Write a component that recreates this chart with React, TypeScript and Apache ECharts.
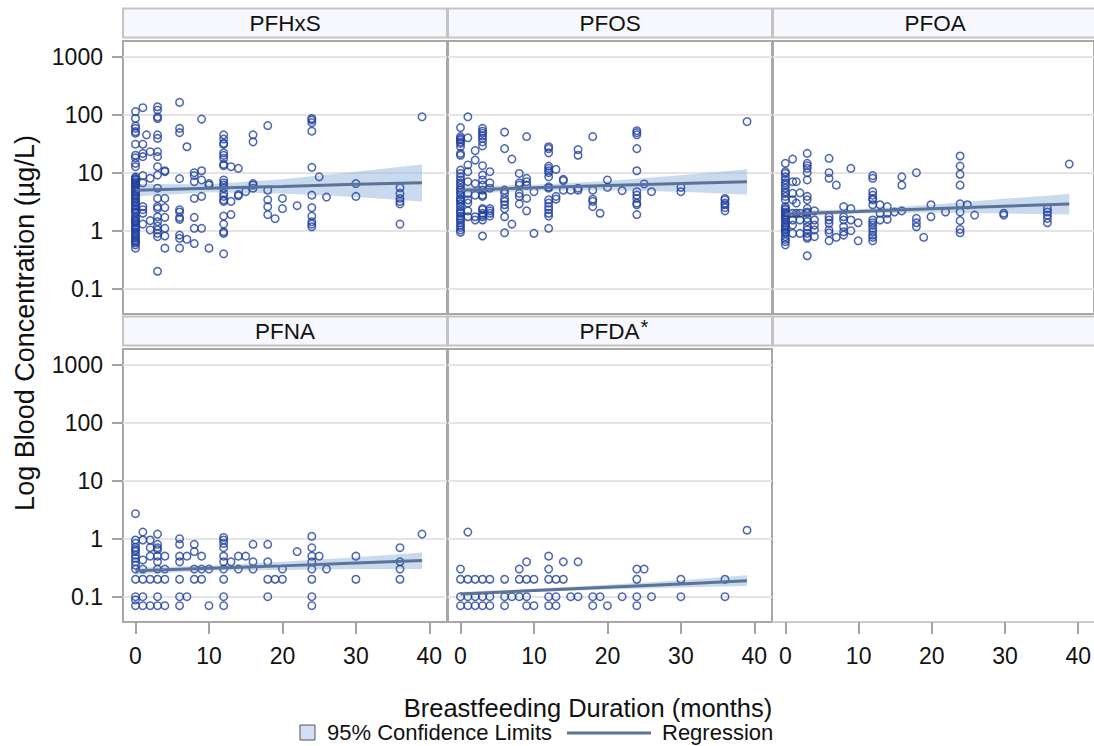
import React, { useEffect, useRef } from "react";
import * as echarts from "echarts";

// ---------- data (month -> blood concentrations, µg/L) ----------
const panelNames = ["PFHxS", "PFOS", "PFOA", "PFNA", "PFDA*"];

const pfhxsByMonth: [number, number[]][] = [
  [0, [113, 86, 64, 58, 51, 48, 31, 20, 18, 14.5, 12.7, 8.5, 8.0, 7.7, 7.5, 7.0, 6.7, 6.4, 6.1, 5.7, 5.4, 5.0, 4.7, 4.4, 4.1, 3.9, 3.6, 3.5, 3.2, 3.0, 2.8, 2.6, 2.4, 2.3, 2.1, 2.0, 1.74, 1.63, 1.5, 1.43, 1.37, 1.25, 1.17, 1.1, 1.05, 0.96, 0.9, 0.84, 0.79, 0.74, 0.69, 0.65, 0.62, 0.57, 0.5]],
  [1, [132, 31, 21.5, 18.9, 8.9, 6.7, 2.6, 2.3, 2.0, 1.3]],
  [1.5, [45]],
  [2, [23, 8.0, 1.49, 1.03]],
  [3, [137, 120, 92, 86, 45, 39, 23, 18.9, 12.7, 9.1, 5.4, 3.6, 2.6, 2.4, 1.74, 1.43, 1.2, 1.03, 0.9, 0.79, 0.2]],
  [4, [10.8, 10.4, 3.6, 2.5, 1.7, 1.1, 0.81, 0.5]],
  [6, [163, 58, 49, 7.9, 2.3, 2.1, 1.7, 1.57, 0.84, 0.74, 0.5]],
  [7, [28, 0.71]],
  [8, [10, 8.9, 7.0, 3.6, 1.7, 1.1, 0.6]],
  [9, [84, 10.8, 7.5, 3.9, 1.1]],
  [10, [6.5, 6.1, 0.5]],
  [12, [45, 38, 32, 31, 22, 19.9, 17.7, 13.9, 13.2, 7.5, 6.7, 6.1, 5.4, 4.4, 3.9, 3.4, 3.2, 1.79, 1.3, 0.96, 0.9, 0.4]],
  [13, [12.7, 3.2, 1.9]],
  [14, [11.9, 4.2, 4.0]],
  [15, [4.7]],
  [16, [45, 34, 6.5, 6.1, 5.4]],
  [18, [65, 5.0, 3.4, 2.6, 1.9]],
  [19, [1.61]],
  [20, [3.6, 2.4]],
  [22, [2.7]],
  [24, [86, 81, 73, 52, 12.4, 4.1, 2.5, 1.79, 1.43, 1.3, 1.17]],
  [25, [8.5]],
  [26, [3.8]],
  [30, [6.5, 3.9]],
  [36, [5.5, 4.4, 3.6, 3.2, 2.9, 1.3]],
  [39, [92]],
];

const pfosByMonth: [number, number[]][] = [
  [0, [60, 42, 39, 37, 34, 32, 28, 21.5, 20, 11.1, 9.7, 8.5, 7.5, 6.7, 6.1, 5.4, 5.0, 4.5, 4.1, 3.6, 3.4, 3.2, 2.9, 2.6, 2.3, 2.1, 2.0, 1.79, 1.63, 1.53, 1.37, 1.25, 1.14, 1.03, 0.94]],
  [1, [92, 40, 13.6, 10.4, 7.0, 4.4, 3.4, 3.0, 2.2, 1.74]],
  [2, [24, 16.5, 6.5, 4.1, 1.74, 1.53]],
  [3, [58, 52, 48, 43, 39, 34, 29, 13.2, 9.1, 7.5, 6.1, 5.0, 4.1, 3.9, 2.4, 2.3, 2.0, 1.86, 1.74, 1.53, 0.81]],
  [4, [10.4, 6.7, 5.4, 2.4, 2.2, 2.0, 1.79]],
  [6, [50, 26, 5.0, 4.4, 3.6, 3.2, 2.8, 2.4, 1.74, 0.92]],
  [7, [17.2, 1.3]],
  [8, [9.7, 6.7, 6.1, 4.4, 3.9, 2.9]],
  [9, [42, 8.0, 7.0, 6.1, 3.6, 2.2]],
  [10, [4.7, 0.9]],
  [12, [28, 26, 22, 13.0, 11.9, 10.8, 10, 8.5, 5.7, 5.4, 3.4, 3.0, 2.6, 2.3, 2.0, 1.79, 1.1]],
  [13, [11.4, 3.9, 3.5]],
  [14, [7.7, 7.3, 5.0]],
  [15, [5.0]],
  [16, [25, 20, 5.4, 5.0]],
  [18, [42, 5.0, 3.5, 3.2, 2.6]],
  [19, [2.0]],
  [20, [7.5, 5.6]],
  [22, [4.9]],
  [24, [53, 49, 45, 26, 10.8, 4.7, 4.1, 3.6, 3.0, 2.8, 1.9]],
  [25, [6.4]],
  [26, [4.7]],
  [30, [5.6, 4.7]],
  [36, [3.6, 3.4, 3.0, 2.8, 2.5, 2.2]],
  [39, [76]],
];

const pfoaByMonth: [number, number[]][] = [
  [0, [14.5, 10.4, 9.7, 8.5, 7.5, 6.7, 6.1, 5.4, 4.7, 4.4, 3.9, 3.4, 2.6, 2.4, 2.3, 2.1, 2.0, 1.86, 1.74, 1.63, 1.53, 1.37, 1.25, 1.17, 1.1, 1.03, 0.96, 0.9, 0.79, 0.71, 0.65, 0.57]],
  [1, [17.2, 7.0, 4.4, 3.4, 2.0, 1.53, 1.25, 0.9]],
  [1.5, [7.0, 3.0, 2.0]],
  [2, [4.5, 2.0, 1.53, 0.9]],
  [3, [21.5, 14.5, 13.2, 11.9, 10, 7.5, 3.9, 3.4, 2.4, 2.1, 2.0, 1.63, 1.43, 1.17, 1.03, 0.9, 0.79, 0.74, 0.37]],
  [4, [2.2, 1.53, 1.25, 1.03, 0.79]],
  [6, [17.7, 10, 8.0, 1.74, 1.53, 1.34, 1.03, 0.92, 0.67]],
  [7, [6.1, 0.77]],
  [8, [2.6, 1.74, 1.53, 1.17, 0.96, 0.84]],
  [9, [11.9, 2.4, 1.53, 1.0]],
  [10, [1.37, 0.67]],
  [12, [8.9, 8.0, 4.7, 4.1, 3.6, 3.4, 2.8, 1.53, 1.37, 1.25, 1.1, 0.96, 0.84, 0.77, 0.67]],
  [13, [2.8, 2.0, 1.53]],
  [14, [2.6, 2.0, 1.57]],
  [15, [2.1]],
  [16, [8.5, 6.1, 2.2]],
  [18, [10, 1.63, 1.37, 1.17]],
  [19, [0.77]],
  [20, [2.8, 1.74]],
  [22, [2.1]],
  [24, [19.4, 13.0, 9.4, 6.1, 2.9, 2.1, 1.49, 1.05, 0.92]],
  [25, [2.8]],
  [26, [1.86]],
  [30, [2.0, 1.86]],
  [36, [2.4, 2.1, 1.86, 1.63, 1.37]],
  [39, [14.1]],
];

const pfnaByMonth: [number, number[]][] = [
  [0, [2.7, 0.95, 0.83, 0.71, 0.65, 0.6, 0.52, 0.46, 0.4, 0.35, 0.3, 0.2, 0.1, 0.088, 0.07]],
  [1, [1.3, 0.95, 0.43, 0.3, 0.2, 0.1, 0.07]],
  [2, [0.95, 0.7, 0.5, 0.2, 0.07]],
  [3, [1.2, 0.8, 0.7, 0.65, 0.5, 0.4, 0.3, 0.2, 0.1, 0.07]],
  [4, [0.5, 0.3, 0.2, 0.07]],
  [6, [1.0, 0.8, 0.5, 0.4, 0.2, 0.1, 0.07]],
  [7, [0.5, 0.1]],
  [8, [0.8, 0.6, 0.3, 0.2]],
  [9, [0.5, 0.3, 0.2]],
  [10, [0.3, 0.07]],
  [12, [1.05, 0.95, 0.83, 0.7, 0.5, 0.4, 0.3, 0.2, 0.1, 0.07]],
  [13, [0.4]],
  [14, [0.5, 0.3]],
  [15, [0.5]],
  [16, [0.8, 0.4, 0.3]],
  [18, [0.8, 0.4, 0.2, 0.1]],
  [19, [0.2]],
  [20, [0.3, 0.2]],
  [22, [0.6]],
  [24, [1.1, 0.7, 0.5, 0.4, 0.3, 0.2, 0.1, 0.07]],
  [25, [0.5]],
  [26, [0.3]],
  [30, [0.5, 0.2]],
  [36, [0.7, 0.4, 0.3, 0.2]],
  [39, [1.2]],
];

const pfdaByMonth: [number, number[]][] = [
  [0, [0.3, 0.2, 0.1, 0.07]],
  [1, [1.3, 0.2, 0.1, 0.07]],
  [2, [0.2, 0.1, 0.07]],
  [3, [0.2, 0.1, 0.07]],
  [4, [0.2, 0.1, 0.07]],
  [6, [0.2, 0.1, 0.07]],
  [7, [0.1]],
  [8, [0.3, 0.2, 0.1]],
  [9, [0.4, 0.2, 0.1, 0.07]],
  [10, [0.2, 0.07]],
  [12, [0.5, 0.3, 0.2, 0.1, 0.07]],
  [13, [0.2, 0.1, 0.07]],
  [14, [0.4, 0.2]],
  [15, [0.1]],
  [16, [0.4, 0.1]],
  [18, [0.1, 0.07]],
  [19, [0.1]],
  [20, [0.07]],
  [22, [0.1]],
  [24, [0.3, 0.2, 0.1, 0.07]],
  [25, [0.3]],
  [26, [0.1]],
  [30, [0.2, 0.1]],
  [36, [0.2, 0.1]],
  [39, [1.4]],
];

// regression fit and 95% confidence limits, read at these months
const fitMonths = [0, 10, 20, 30, 39];
const pfhxsFit = [5.0, 5.4, 5.8, 6.3, 6.7];
const pfhxsLower = [3.9, 4.6, 4.4, 3.8, 3.2];
const pfhxsUpper = [6.4, 6.3, 7.7, 10.4, 13.9];
const pfosFit = [5.0, 5.5, 6.0, 6.5, 7.0];
const pfosLower = [4.3, 4.9, 5.0, 4.7, 4.2];
const pfosUpper = [5.8, 6.2, 7.2, 9.0, 11.5];
const pfoaFit = [1.94, 2.15, 2.4, 2.65, 2.9];
const pfoaLower = [1.72, 1.97, 2.05, 1.97, 1.9];
const pfoaUpper = [2.2, 2.35, 2.8, 3.55, 4.3];
const pfnaFit = [0.28, 0.31, 0.34, 0.38, 0.42];
const pfnaLower = [0.245, 0.28, 0.29, 0.3, 0.3];
const pfnaUpper = [0.32, 0.34, 0.4, 0.48, 0.58];
const pfdaFit = [0.111, 0.128, 0.146, 0.166, 0.189];
const pfdaLower = [0.103, 0.12, 0.133, 0.144, 0.153];
const pfdaUpper = [0.12, 0.137, 0.16, 0.192, 0.235];

const yTickMin = 0.1;
const yTickMax = 1000;
const xTickMin = 0;
const xTickMax = 40;
const xTickStep = 10;

// ---------- layout / style ----------
const FONT = "'Liberation Sans', Arial, Helvetica, sans-serif";
const COL_LEFT = [123, 448, 773];
const ROW_TOP = [41, 349];
const PW = 324;
const PH = 273;
const XMIN = -1.7;
const XMAX = 42.4;
const YLMIN = -1.4362;
const YLMAX = 3.2707;
const MARKER = "#1f3f9f";
const LINE = "#5b7396";
const BAND = "rgba(150,182,222,0.5)";
const GRIDLINE = "#e4e4e4";
const TICK = "#a4a4a4";
const BORDER = "#a8a8a8";
const TEXT = "#111";

const panels = [
  { col: 0, row: 0, pts: pfhxsByMonth, fit: pfhxsFit, lo: pfhxsLower, hi: pfhxsUpper },
  { col: 1, row: 0, pts: pfosByMonth, fit: pfosFit, lo: pfosLower, hi: pfosUpper },
  { col: 2, row: 0, pts: pfoaByMonth, fit: pfoaFit, lo: pfoaLower, hi: pfoaUpper },
  { col: 0, row: 1, pts: pfnaByMonth, fit: pfnaFit, lo: pfnaLower, hi: pfnaUpper },
  { col: 1, row: 1, pts: pfdaByMonth, fit: pfdaFit, lo: pfdaLower, hi: pfdaUpper },
];

function buildOption() {
  const grids: any[] = [];
  const xAxes: any[] = [];
  const yAxes: any[] = [];
  const series: any[] = [];
  const addGrid = (g: any, x: any, y: any) => {
    grids.push(g);
    const i = grids.length - 1;
    xAxes.push({ ...x, gridIndex: i });
    yAxes.push({ ...y, gridIndex: i });
    return i;
  };
  const hiddenValue = { type: "value", show: false, min: 0, max: 1 };
  const labelStyle = { fontSize: 23, color: TEXT, fontFamily: FONT };

  // data panels
  panels.forEach((p) => {
    const gi = addGrid(
      {
        left: COL_LEFT[p.col],
        top: ROW_TOP[p.row],
        width: PW,
        height: PH,
        show: true,
        borderColor: BORDER,
        borderWidth: 2,
        backgroundColor: "transparent",
      },
      { type: "value", min: XMIN, max: XMAX, show: false },
      { type: "log", logBase: 10, min: Math.pow(10, YLMIN), max: Math.pow(10, YLMAX), show: false }
    );
    const scatterData: number[][] = [];
    p.pts.forEach(([m, vals]) => vals.forEach((v) => scatterData.push([m, v])));
    const lo = p.lo;
    const hi = p.hi;
    series.push({
      type: "custom",
      xAxisIndex: gi,
      yAxisIndex: gi,
      z: 1,
      silent: true,
      data: fitMonths.map((m, i) => [m, lo[i], hi[i]]),
      encode: { x: 0, y: [1, 2] },
      renderItem: (params: any, api: any) => {
        if (params.dataIndex !== 0) return null;
        const pts: number[][] = [];
        for (let i = 0; i < fitMonths.length; i++) pts.push(api.coord([fitMonths[i], hi[i]]));
        for (let i = fitMonths.length - 1; i >= 0; i--) pts.push(api.coord([fitMonths[i], lo[i]]));
        return { type: "polygon", shape: { points: pts }, style: { fill: BAND } };
      },
    });
    series.push({
      type: "scatter",
      xAxisIndex: gi,
      yAxisIndex: gi,
      z: 2,
      symbol: "circle",
      symbolSize: 7.5,
      itemStyle: { color: "rgba(0,0,0,0)", borderColor: MARKER, borderWidth: 1.5 },
      data: scatterData,
    });
    series.push({
      type: "line",
      xAxisIndex: gi,
      yAxisIndex: gi,
      z: 3,
      showSymbol: false,
      lineStyle: { color: LINE, width: 3 },
      data: fitMonths.map((m, i) => [m, p.fit[i]]),
    });
  });

  // empty bottom-right cell: only a baseline
  addGrid(
    { left: COL_LEFT[2], top: ROW_TOP[1], width: PW, height: PH, show: false },
    {
      type: "value",
      min: XMIN,
      max: XMAX,
      axisLine: { show: true, onZero: false, lineStyle: { color: "#cdcdcd", width: 2 } },
      axisTick: { show: false },
      axisLabel: { show: false },
      splitLine: { show: false },
    },
    { type: "log", min: Math.pow(10, YLMIN), max: Math.pow(10, YLMAX), show: false }
  );

  // y tick / gridline grids
  const span = YLMAX - YLMIN;
  panels.forEach((p) => {
    addGrid(
      {
        left: COL_LEFT[p.col],
        width: PW,
        top: ROW_TOP[p.row] + (PH * (YLMAX - Math.log10(yTickMax))) / span,
        height: (PH * (Math.log10(yTickMax) - Math.log10(yTickMin))) / span,
        show: false,
      },
      hiddenValue,
      {
        type: "log",
        logBase: 10,
        min: yTickMin,
        max: yTickMax,
        axisLine: { show: false },
        axisTick: { show: p.col === 0, length: 11, lineStyle: { color: TICK, width: 2 } },
        axisLabel: {
          show: p.col === 0,
          margin: 20,
          ...labelStyle,
          formatter: (v: number) => String(Number(v.toPrecision(3))),
        },
        splitLine: { show: true, lineStyle: { color: GRIDLINE, width: 2 } },
      }
    );
  });

  // x tick grids along the bottom
  [0, 1, 2].forEach((c) => {
    const pxPerUnit = PW / (XMAX - XMIN);
    addGrid(
      {
        left: COL_LEFT[c] + (xTickMin - XMIN) * pxPerUnit,
        width: (xTickMax - xTickMin) * pxPerUnit,
        top: ROW_TOP[1],
        height: PH,
        show: false,
      },
      {
        type: "value",
        min: xTickMin,
        max: xTickMax,
        interval: xTickStep,
        axisLine: { show: false, onZero: false },
        axisTick: { show: true, length: 12, lineStyle: { color: TICK, width: 2 } },
        axisLabel: { margin: 22, ...labelStyle },
        splitLine: { show: false },
      },
      hiddenValue
    );
  });

  const graphics: any[] = [];
  // strip headers
  [0, 1].forEach((r) =>
    [0, 1, 2].forEach((c) => {
      graphics.push({
        type: "rect",
        shape: { x: COL_LEFT[c], y: ROW_TOP[r] - 32.5, width: PW, height: 29 },
        style: { fill: "#f6f8fd", stroke: "#c4c4c4", lineWidth: 2 },
      });
    })
  );
  panels.forEach((p, i) => {
    const name = panelNames[i];
    const star = name.endsWith("*");
    graphics.push({
      type: "text",
      x: COL_LEFT[p.col] + PW / 2 + (star ? 4 : 0),
      y: ROW_TOP[p.row] - 18,
      style: {
        text: star ? `{a|${name.slice(0, -1)}}{s|*}` : name,
        rich: star
          ? {
              a: { fontSize: 22.5, fontFamily: FONT, fill: TEXT },
              s: { fontSize: 20, fontFamily: FONT, fill: TEXT, padding: [0, 0, 9, 1] },
            }
          : undefined,
        fontSize: 22.5,
        fontFamily: FONT,
        fill: TEXT,
        align: "center",
        verticalAlign: "middle",
      },
    });
  });
  // axis titles
  graphics.push({
    type: "text",
    x: 25,
    y: 323,
    rotation: Math.PI / 2,
    style: {
      text: "Log Blood Concentration (µg/L)",
      fontSize: 27,
      fontFamily: FONT,
      fill: TEXT,
      align: "center",
      verticalAlign: "middle",
    },
  });
  graphics.push({
    type: "text",
    x: 588,
    y: 708,
    style: {
      text: "Breastfeeding Duration (months)",
      fontSize: 25.5,
      fontFamily: FONT,
      fill: TEXT,
      align: "center",
      verticalAlign: "middle",
    },
  });
  // legend
  graphics.push({
    type: "rect",
    shape: { x: 300, y: 725, width: 15, height: 15 },
    style: { fill: "#d3e0f1", stroke: "#555", lineWidth: 1 },
  });
  graphics.push({
    type: "text",
    x: 327,
    y: 732,
    style: { text: "95% Confidence Limits", fontSize: 22, fontFamily: FONT, fill: TEXT, align: "left", verticalAlign: "middle" },
  });
  graphics.push({
    type: "line",
    shape: { x1: 567, y1: 733, x2: 651, y2: 733 },
    style: { stroke: LINE, lineWidth: 3 },
  });
  graphics.push({
    type: "text",
    x: 662,
    y: 732,
    style: { text: "Regression", fontSize: 22, fontFamily: FONT, fill: TEXT, align: "left", verticalAlign: "middle" },
  });

  return {
    animation: false,
    backgroundColor: "#ffffff",
    textStyle: { fontFamily: FONT },
    grid: grids,
    xAxis: xAxes,
    yAxis: yAxes,
    series,
    graphic: graphics,
  };
}

export default function App() {
  const ref = useRef<HTMLDivElement>(null);
  useEffect(() => {
    if (!ref.current) return;
    const chart = echarts.init(ref.current, null, { renderer: "svg" });
    chart.setOption(buildOption() as any);
    return () => chart.dispose();
  }, []);
  return (
    <div
      ref={ref}
      style={{ position: "absolute", left: 0, top: 0, width: 1094, height: 746, background: "#fff" }}
    />
  );
}
